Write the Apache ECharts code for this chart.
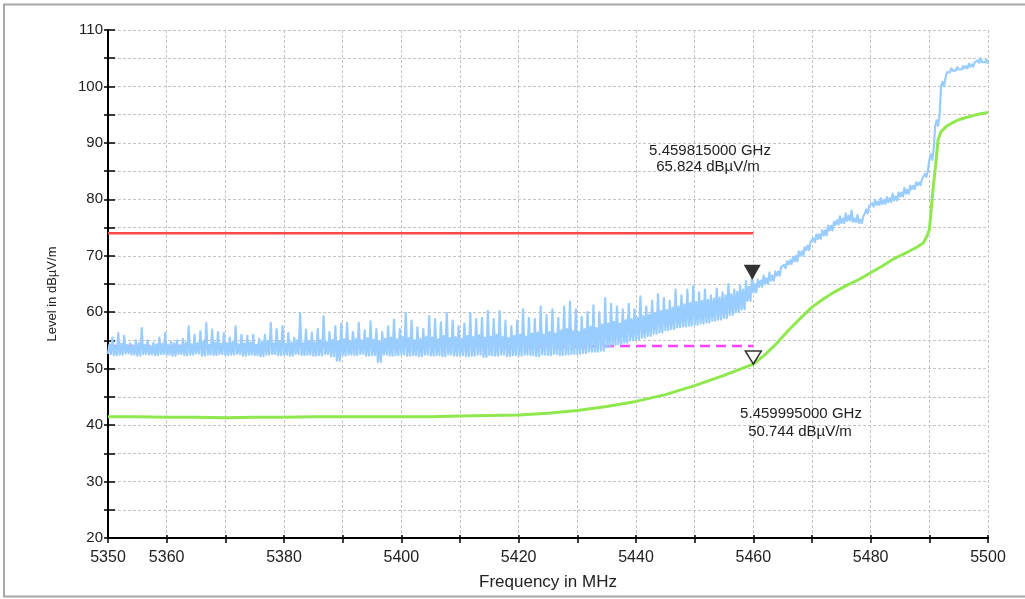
<!DOCTYPE html>
<html>
<head>
<meta charset="utf-8">
<script src="https://cdn.jsdelivr.net/npm/echarts@6/dist/echarts.min.js"></script>
<style>
html,body{margin:0;padding:0;background:#fff;}
#chart{width:1025px;height:599px;}
</style>
</head>
<body>
<div id="chart"></div>
<script>
// ---- data ----
const startMHz = 5350;
const xTickLabels = [5350, 5360, 5380, 5400, 5420, 5440, 5460, 5480, 5500];
const yTickLabels = [20, 30, 40, 50, 60, 70, 80, 90, 100, 110];

// Peak trace (blue), one sample set per MHz from 5350 to 5500: lower edge, dense-band top, spike top
const blueLo = [
  52.6,52.4,52.5,52.7,52.5,52.3,52.6,52.5,52.4,52.6,
  52.5,52.3,52.6,52.4,52.5,52.7,52.3,52.5,52.4,52.6,
  52.4,52.5,52.6,52.3,52.5,52.4,52.2,52.5,52.6,52.4,
  52.5,52.3,52.6,52.4,52.5,52.3,52.4,52.6,52.2,51.4,
  52.3,52.5,52.4,52.6,52.3,52.4,51.2,52.5,52.3,52.4,
  52.5,52.3,52.4,52.2,52.5,52.3,52.4,52.2,52.5,52.3,
  52.4,52.2,52.3,52.5,52.1,52.4,52.3,52.5,52.2,52.4,
  52.3,52.5,52.4,52.2,52.5,52.4,52.6,52.4,52.5,52.6,
  52.6,52.8,53.0,53.0,53.2,53.8,54.2,54.3,54.6,55.0,
  55.2,55.5,55.8,56.2,56.4,56.8,57.0,57.3,57.5,57.6,
  57.8,58.0,58.2,58.5,58.7,59.0,59.5,60.0,60.5,62.0,
  63.5,64.5,65.0,65.6,66.5,67.8,68.5,69.0,70.0,71.0,
  72.4,73.0,73.6,74.5,75.5,75.8,76.2,76.0,75.8,77.5,
  78.7,79.0,79.2,79.5,79.8,80.5,81.0,81.8,82.5,84.0,
  87.0,93.0,100.0,102.5,102.8,103.0,103.2,103.5,104.2,104.3,104.0
];
const blueTop = [
  54.3,54.0,54.4,54.2,54.1,54.5,54.2,54.0,54.3,54.4,
  54.2,54.5,54.1,54.6,54.3,54.5,54.8,54.2,54.6,54.4,
  54.5,54.7,54.3,54.5,54.6,54.2,54.8,54.9,54.5,54.7,
  54.4,54.6,55.0,54.5,54.8,54.6,55.0,54.7,55.1,54.9,
  55.2,54.8,55.3,55.0,55.4,55.1,54.9,55.3,55.5,55.2,
  55.6,55.4,55.0,55.3,55.7,55.5,55.2,55.8,55.4,55.6,
  55.3,55.8,55.6,55.9,55.5,55.7,56.0,55.6,55.4,55.8,
  56.0,55.7,56.2,56.4,56.0,56.5,56.2,56.8,57.0,56.6,
  56.5,57.0,57.4,57.2,57.8,58.0,58.3,58.0,58.6,58.8,
  59.0,59.3,59.6,59.8,60.2,60.4,60.8,61.0,61.4,61.6,
  61.8,62.0,62.2,62.4,62.6,63.0,63.2,63.6,64.0,64.5,
  65.0,65.6,66.0,66.5,67.2,68.4,69.2,70.0,70.8,71.8,
  73.1,73.8,74.5,75.3,76.3,76.6,77.1,76.6,76.4,78.2,
  79.3,79.6,79.8,80.2,80.5,81.2,81.7,82.4,83.0,84.5,
  88.0,94.0,100.8,102.8,103.1,103.3,103.6,103.9,104.6,104.5,104.2
];
const blueHi = [
  55.5,56.3,55.8,54.5,55.0,57.2,55.0,54.6,55.5,56.3,
  54.8,55.0,55.3,57.5,56.0,56.6,58.1,56.9,56.5,56.3,
  55.5,57.5,56.0,55.8,56.0,55.3,56.0,58.1,57.0,57.5,
  56.3,55.5,59.9,56.9,56.4,57.0,59.3,56.5,57.5,58.0,
  58.1,56.5,58.1,56.8,58.4,57.0,56.5,57.5,58.7,57.0,
  59.9,58.5,57.3,57.0,59.3,58.8,58.2,59.9,58.5,57.5,
  58.0,59.9,58.8,59.0,60.2,58.8,60.2,58.5,57.5,58.5,
  60.5,59.0,58.8,61.0,59.5,60.5,59.0,61.0,61.9,60.5,
  59.2,60.0,61.2,60.0,62.5,61.5,61.0,60.5,61.5,60.5,
  62.8,61.0,62.0,63.2,62.5,62.0,64.0,63.0,64.0,64.6,
  63.5,64.0,63.0,64.2,63.5,65.0,64.0,64.8,65.5,66.0,
  65.8,66.5,67.0,67.2,68.0,69.0,69.8,70.8,71.5,72.5,
  73.8,74.5,75.3,76.0,77.0,77.5,78.0,77.2,77.0,78.8,
  79.9,80.2,80.4,81.0,81.2,82.0,82.4,83.0,83.6,85.0,
  89.0,95.0,101.5,103.2,103.4,103.6,104.0,104.3,105.0,104.8,104.5
];

// Average trace (green)
const greenFreq = [5350,5355,5360,5365,5370,5375,5380,5385,5390,5395,5400,5405,5410,5415,5420,5425,5430,5435,5440,5445,5450,5455,5460,5462,5464,5466,5468,5470,5472,5474,5476,5478,5480,5482,5484,5486,5488,5489,5489.6,5490,5490.3,5490.6,5491,5491.5,5492,5493,5494,5495,5496,5497,5498,5499,5500];
const greenLevel = [41.5,41.5,41.4,41.4,41.3,41.4,41.4,41.5,41.5,41.5,41.5,41.5,41.6,41.7,41.8,42.1,42.6,43.3,44.2,45.4,47.0,48.8,50.8,52.5,54.5,56.8,58.9,60.9,62.4,63.7,64.8,65.8,67.0,68.2,69.5,70.5,71.6,72.3,73.5,74.6,78.0,81.5,85.3,90.6,92.0,93.0,93.6,94.1,94.4,94.7,95.0,95.2,95.4];

// Limit lines
const limitFreq = [5350, 5460];
const peakLimit = [74, 74];
const avgLimit = [54, 54];

// Markers
const markerFreq = [5459.815, 5459.995];
const markerLevel = [65.824, 50.744];
const markerText = [['5.459815000 GHz', '65.824 dBµV/m'], ['5.459995000 GHz', '50.744 dBµV/m']];

// ---- build ----
const blueData = [];
for (let i = 0; i < blueLo.length; i++) {
  const f = startMHz + i;
  blueData.push([f, blueLo[i]]);
  if (i < blueLo.length - 1) {
    blueData.push([f + 0.25, blueTop[i]]);
    blueData.push([f + 0.5, blueLo[i]]);
    blueData.push([f + 0.75, blueHi[i]]);
  }
}
const greenData = greenFreq.map((f, i) => [f, greenLevel[i]]);
const peakLimData = limitFreq.map((f, i) => [f, peakLimit[i]]);
const avgLimData = limitFreq.map((f, i) => [f, avgLimit[i]]);

const FONT = "'Liberation Sans', Arial, sans-serif";
const gridLine = { show: true, lineStyle: { color: '#c4c4c4', width: 1, type: [3, 2] } };

const chart = echarts.init(document.getElementById('chart'), null, { renderer: 'canvas' });
const option = {
  animation: false,
  backgroundColor: '#ffffff',
  grid: { left: 108, right: 37, top: 30, bottom: 61, containLabel: false },
  xAxis: [{
    type: 'value', min: 5350, max: 5500, interval: 10,
    axisLine: { show: true, onZero: false, lineStyle: { color: '#000', width: 2 } },
    axisTick: { show: true, inside: false, length: 5, lineStyle: { color: '#000', width: 1.5 } },
    splitLine: gridLine,
    axisLabel: {
      show: true, margin: 12, color: '#222', fontSize: 16, fontFamily: FONT,
      showMinLabel: true, showMaxLabel: true,
      formatter: v => xTickLabels.indexOf(v) >= 0 ? String(v) : ''
    }
  }, {
    type: 'value', min: 5350, max: 5500, interval: 10, position: 'bottom', offset: 0,
    axisLine: { show: false, onZero: false },
    axisTick: { show: true, inside: true, length: 3, lineStyle: { color: '#000', width: 1.5 } },
    splitLine: { show: false }, axisLabel: { show: false }
  }],
  yAxis: [{
    type: 'value', min: 20, max: 110, interval: 5,
    axisLine: { show: true, onZero: false, lineStyle: { color: '#000', width: 2 } },
    axisTick: { show: true, inside: false, length: 4, lineStyle: { color: '#000', width: 1.5 } },
    splitLine: gridLine,
    axisLabel: {
      show: true, margin: 5, color: '#222', fontSize: 15, fontFamily: FONT,
      formatter: v => yTickLabels.indexOf(v) >= 0 ? String(v) : ''
    }
  }, {
    type: 'value', min: 20, max: 110, interval: 5, position: 'left', offset: 0,
    axisLine: { show: false, onZero: false },
    axisTick: { show: true, inside: true, length: 7, lineStyle: { color: '#000', width: 1.5 } },
    splitLine: { show: false }, axisLabel: { show: false }
  }],
  series: [
    { type: 'line', name: 'AvgLimit', data: avgLimData, showSymbol: false, z: 2,
      lineStyle: { color: '#ff40ff', width: 2.5, type: [10, 6] } },
    { type: 'line', name: 'PeakLimit', data: peakLimData, showSymbol: false, z: 2,
      lineStyle: { color: '#ff4a4a', width: 2.5 } },
    { type: 'line', name: 'Peak', data: blueData, showSymbol: false, z: 3, sampling: null,
      lineStyle: { color: '#99ccff', width: 2.2, join: 'round' } },
    { type: 'line', name: 'Average', data: greenData, showSymbol: false, z: 4,
      lineStyle: { color: '#8ee84e', width: 3 } },
    { type: 'scatter', name: 'M1', z: 6,
      data: [[markerFreq[0], markerLevel[0]]],
      symbol: 'triangle', symbolRotate: 180, symbolSize: [17, 15], symbolOffset: [0, -7],
      itemStyle: { color: '#000' } },
    { type: 'scatter', name: 'M2', z: 6,
      data: [[markerFreq[1], markerLevel[1]]],
      symbol: 'triangle', symbolRotate: 180, symbolSize: [16, 13], symbolOffset: [0, -7],
      itemStyle: { color: '#fff', borderColor: '#000', borderWidth: 1.5 } }
  ],
  graphic: [
    { type: 'rect', z: 100, silent: true,
      shape: { x: 4, y: 4.5, width: 1040, height: 592 },
      style: { fill: 'none', stroke: '#a8a8a8', lineWidth: 2 } },
    { type: 'text', z: 100, x: 548, y: 582,
      style: { text: 'Frequency in MHz', font: "17px 'Liberation Sans', Arial, sans-serif", fill: '#222', textAlign: 'center', textVerticalAlign: 'middle' } },
    { type: 'text', z: 100, x: 52, y: 294, rotation: Math.PI / 2,
      style: { text: 'Level in dBµV/m', font: "13px 'Liberation Sans', Arial, sans-serif", fill: '#222', textAlign: 'center', textVerticalAlign: 'middle' } },
    { type: 'text', z: 100, x: 710, y: 151,
      style: { text: markerText[0][0], font: "15px 'Liberation Sans', Arial, sans-serif", fill: '#222', textAlign: 'center', textVerticalAlign: 'middle' } },
    { type: 'text', z: 100, x: 708, y: 167,
      style: { text: markerText[0][1], font: "15px 'Liberation Sans', Arial, sans-serif", fill: '#222', textAlign: 'center', textVerticalAlign: 'middle' } },
    { type: 'text', z: 100, x: 801, y: 414,
      style: { text: markerText[1][0], font: "15px 'Liberation Sans', Arial, sans-serif", fill: '#222', textAlign: 'center', textVerticalAlign: 'middle' } },
    { type: 'text', z: 100, x: 800, y: 432,
      style: { text: markerText[1][1], font: "15px 'Liberation Sans', Arial, sans-serif", fill: '#222', textAlign: 'center', textVerticalAlign: 'middle' } }
  ]
};
chart.setOption(option);
</script>
</body>
</html>
